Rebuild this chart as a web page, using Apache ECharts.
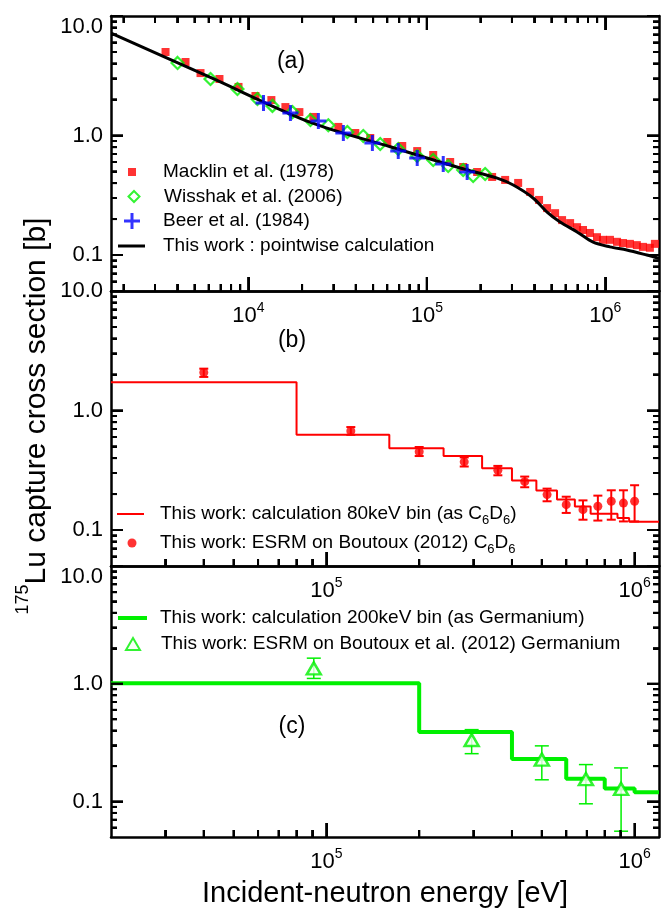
<!DOCTYPE html>
<html><head><meta charset="utf-8">
<script src="https://cdn.jsdelivr.net/npm/echarts@6/dist/echarts.min.js"></script>
<style>html,body{margin:0;padding:0;background:#fff}#c{width:671px;height:909px;background:#fff}</style>
</head><body><div id="c"></div>
<script>
// ---------- data ----------
// Panel (a)
const macklinEnergy = [3436,4446,5395,6890,8810,10960,13460,16130,19320,23130,31930,39740,48220,60070,72840,88350,108600,135200,159900,191400,232300,274800,325000,379300,425600,472000,523400,572800,635300,695000,750000,820000,899000,971000,1062000,1164000,1256000,1374000,1503000,1625000,1778000,1897000];
const macklinXS = [5.0,4.12,3.33,2.97,2.55,2.14,1.98,1.73,1.57,1.43,1.18,1.05,0.953,0.883,0.817,0.741,0.687,0.600,0.545,0.495,0.450,0.425,0.401,0.337,0.289,0.247,0.224,0.196,0.185,0.171,0.162,0.153,0.141,0.134,0.134,0.129,0.126,0.124,0.121,0.117,0.115,0.124];
const wisshakEnergy = [4012,6137,8690,11250,13650,17660,22280,28060,35890,44060,54830,69180,88350,108600,131800,159900,181900,212300];
const wisshakXS = [4.05,2.97,2.45,2.02,1.77,1.57,1.35,1.22,1.07,0.99,0.849,0.771,0.673,0.624,0.556,0.514,0.458,0.477];
const beerEnergy = [12160,17210,24680,34070,49550,69180,88350,123600,168300];
const beerXS = [1.87,1.54,1.32,1.05,0.865,0.741,0.649,0.578,0.495];
const calcEnergy = [1714,6220,22500,62400,153800,248000,305000,394000,472000,558000,695000,855000,1060000,1320000,1710000,2000000];
const calcXS = [7.17,3.03,1.28,0.805,0.535,0.44,0.385,0.30,0.229,0.189,0.156,0.128,0.117,0.110,0.100,0.094];
// Panel (b): 80 keV bins (left edges) and ESRM points
const c6d6BinEdges = [20000,80000,160000,240000,320000,400000,480000,560000,640000,720000,800000,880000,960000,1200000];
const c6d6BinXS = [1.72,0.626,0.483,0.416,0.329,0.260,0.214,0.180,0.157,0.137,0.137,0.126,0.117,0.117];
const c6d6Energy = [40000,120000,200000,280000,360000,440000,520000,600000,680000,760000,840000,920000,1000000];
const c6d6XS = [2.08,0.675,0.452,0.372,0.316,0.254,0.198,0.163,0.148,0.158,0.174,0.168,0.174];
const c6d6Low = [1.91,0.626,0.416,0.340,0.287,0.228,0.174,0.139,0.122,0.120,0.122,0.118,0.118];
const c6d6High = [2.24,0.727,0.495,0.405,0.344,0.280,0.222,0.190,0.177,0.194,0.215,0.215,0.237];
// Panel (c): 200 keV bins and ESRM points
const geBinEdges = [20000,200000,400000,600000,800000,1000000,1200000];
const geBinXS = [1.01,0.39,0.23,0.156,0.129,0.12,0.12];
const geEnergy = [91000,296000,500000,695000,904000];
const geXS = [1.35,0.333,0.227,0.155,0.128];
const geLow = [1.11,0.255,0.153,0.0957,0.056];
const geHigh = [1.65,0.408,0.297,0.206,0.193];
// Axes / ticks
const yMajorTicks = [0.1,1,10];
const yTickLabels = ['0.1','1.0','10.0'];
const yMinorTicks = [0.06,0.07,0.08,0.09,0.2,0.3,0.4,0.5,0.6,0.7,0.8,0.9,2,3,4,5,6,7,8,9];
const xMajorTicksA = [1e4,1e5,1e6];
const xTickExpA = ['4','5','6'];
const xMinorTicksA = [2000,3000,4000,5000,6000,7000,8000,9000,2e4,3e4,4e4,5e4,6e4,7e4,8e4,9e4,2e5,3e5,4e5,5e5,6e5,7e5,8e5,9e5];
const xMajorTicksBC = [1e5,1e6];
const xTickExpBC = ['5','6'];
const xMinorTicksBC = [3e4,4e4,5e4,6e4,7e4,8e4,9e4,2e5,3e5,4e5,5e5,6e5,7e5,8e5,9e5];
const xRangeA = [1700, 2e6];
const xRangeBC = [2e4, 1.2e6];
const yRange = [0.05, 10];

const names = {
  mack: 'Macklin et al. (1978)',
  wiss: 'Wisshak et al. (2006)',
  beer: 'Beer et al. (1984)',
  calc: 'This work : pointwise calculation',
  c6calc: 'This work: calculation 80keV bin (as C6D6)',
  c6pts: 'This work: ESRM on Boutoux (2012) C6D6',
  gecalc: 'This work: calculation 200keV bin (as Germanium)',
  gepts: 'This work: ESRM on Boutoux et al. (2012) Germanium'
};

// ---------- styling ----------
const FONT = '"Liberation Sans", Arial, Helvetica, sans-serif';
const RED = '#ff0000', GREEN = '#00f000', BLUE = '#0000ff', BLACK = '#000000';
const grids = [
  {left: 111, top: 16, width: 548, height: 275},
  {left: 111, top: 291, width: 548, height: 275},
  {left: 111, top: 566, width: 548, height: 275}
];

function nearestIdx(arr, v) {
  let best = 0, bd = Infinity;
  arr.forEach((a, i) => { const d = Math.abs(Math.log10(a) - Math.log10(v)); if (d < bd) { bd = d; best = i; } });
  return best;
}
const supRich = {
  b: {fontSize: 22, fontFamily: FONT, color: BLACK},
  s: {fontSize: 14, fontFamily: FONT, color: BLACK, padding: [0, 0, 15, 0]}
};

const xRanges = [xRangeA, xRangeBC, xRangeBC];
const xMajors = [xMajorTicksA, xMajorTicksBC, xMajorTicksBC];
const xMinors = [xMinorTicksA, xMinorTicksBC, xMinorTicksBC];
const xExps = [xTickExpA, xTickExpBC, xTickExpBC];

const xAxes = [], yAxes = [];
grids.forEach((g, gi) => {
  const range = xRanges[gi];
  const majors = xMajors[gi];
  const minors = xMinors[gi];
  const exps = xExps[gi];
  const mk = (pos, tickVals, len, showLine, showTick, label) => ({
    type: 'log', gridIndex: gi, min: range[0], max: range[1], position: pos,
    splitLine: {show: false},
    axisLine: {show: showLine, lineStyle: {color: BLACK, width: 2.5}},
    axisTick: {show: showTick, inside: true, length: len, customValues: tickVals, lineStyle: {color: BLACK, width: 2}},
    axisLabel: label || {show: false}
  });
  xAxes.push(mk('bottom', majors, 14, true, true, {show: true, customValues: majors, margin: 10,
      formatter: v => '{b|10}{s|' + exps[nearestIdx(majors, v)] + '}', rich: supRich}));
  xAxes.push(mk('bottom', minors, 7, false, true));
  xAxes.push(mk('top', majors, 14, true, gi === 0));
  xAxes.push(mk('top', minors, 7, false, gi === 0));

  const mky = (pos, tickVals, len, showLine, label) => ({
    type: 'log', gridIndex: gi, min: yRange[0], max: yRange[1], position: pos,
    splitLine: {show: false},
    axisLine: {show: showLine, lineStyle: {color: BLACK, width: 2.5}},
    axisTick: {show: true, inside: true, length: len, customValues: tickVals, lineStyle: {color: BLACK, width: 2}},
    axisLabel: label || {show: false}
  });
  yAxes.push(mky('left', yMajorTicks, 12, true, {show: true, customValues: yMajorTicks, margin: 8,
      fontSize: 22, fontFamily: FONT, color: BLACK,
      verticalAlignMaxLabel: gi === 1 ? 'middle' : 'top',
      formatter: v => yTickLabels[nearestIdx(yMajorTicks, v)]}));
  yAxes.push(mky('left', yMinorTicks, 6, false));
  yAxes.push(mky('right', yMajorTicks, 12, true));
  yAxes.push(mky('right', yMinorTicks, 6, false));
});
// x-axis title on bottom panel
xAxes[8].name = 'Incident-neutron energy [eV]';
xAxes[8].nameLocation = 'middle';
xAxes[8].nameGap = 42;
xAxes[8].nameTextStyle = {fontSize: 29, fontFamily: FONT, color: BLACK};

const zip = (a, b) => a.map((v, i) => [v, b[i]]);
const zip3 = (a, b, c) => a.map((v, i) => [v, b[i], c[i]]);

function errBar(capHalf, color, lw) {
  return function (params, api) {
    const x = api.value(0), lo = api.value(1), hi = api.value(2);
    const p1 = api.coord([x, lo]), p2 = api.coord([x, hi]);
    const st = {stroke: color, lineWidth: lw};
    return {type: 'group', children: [
      {type: 'line', shape: {x1: p1[0], y1: p1[1], x2: p2[0], y2: p2[1]}, style: st},
      {type: 'line', shape: {x1: p1[0] - capHalf, y1: p1[1], x2: p1[0] + capHalf, y2: p1[1]}, style: st},
      {type: 'line', shape: {x1: p2[0] - capHalf, y1: p2[1], x2: p2[0] + capHalf, y2: p2[1]}, style: st}
    ]};
  };
}

// tick marks as custom series (values from tick arrays, placed by the log axes)
const tickStyle = {stroke: BLACK, lineWidth: 2};
function xTickSeries(gi) {
  const data = xMajors[gi].map(v => [v, yRange[0], 14]).concat(xMinors[gi].map(v => [v, yRange[0], 7]));
  return {name: 'xticks' + gi, type: 'custom', xAxisIndex: 4 * gi, yAxisIndex: 4 * gi, z: 6,
    data: data, encode: {x: 0, y: 1},
    renderItem: function (params, api) {
      const v = api.value(0), L = api.value(2);
      const pb = api.coord([v, yRange[0]]), pt = api.coord([v, yRange[1]]);
      const ch = [{type: 'line', shape: {x1: pb[0], y1: pb[1], x2: pb[0], y2: pb[1] - L}, style: tickStyle}];
      if (gi === 0) ch.push({type: 'line', shape: {x1: pt[0], y1: pt[1], x2: pt[0], y2: pt[1] + L}, style: tickStyle});
      return {type: 'group', children: ch};
    }};
}
function yTickSeries(gi) {
  const xr = xRanges[gi];
  const data = yMajorTicks.map(v => [xr[0], v, 12]).concat(yMinorTicks.map(v => [xr[0], v, 6]));
  return {name: 'yticks' + gi, type: 'custom', xAxisIndex: 4 * gi, yAxisIndex: 4 * gi, z: 6,
    data: data, encode: {x: 0, y: 1},
    renderItem: function (params, api) {
      const v = api.value(1), L = api.value(2);
      const pl = api.coord([xr[0], v]), pr = api.coord([xr[1], v]);
      return {type: 'group', children: [
        {type: 'line', shape: {x1: pl[0], y1: pl[1], x2: pl[0] + L, y2: pl[1]}, style: tickStyle},
        {type: 'line', shape: {x1: pr[0], y1: pr[1], x2: pr[0] - L, y2: pr[1]}, style: tickStyle}
      ]};
    }};
}

const plusPath = 'path://M0,6.5H6.5V0H9.5V6.5H16V9.5H9.5V16H6.5V9.5H0Z';

const series = [
  {name: names.mack, type: 'scatter', xAxisIndex: 0, yAxisIndex: 0, data: zip(macklinEnergy, macklinXS),
   symbol: 'rect', symbolSize: 8, itemStyle: {color: RED}, z: 2},
  {name: names.wiss, type: 'scatter', xAxisIndex: 0, yAxisIndex: 0, data: zip(wisshakEnergy, wisshakXS),
   symbol: 'diamond', symbolSize: 12, itemStyle: {color: 'rgba(255,255,255,0)', borderColor: GREEN, borderWidth: 2.2}, z: 3},
  {name: names.calc, type: 'line', xAxisIndex: 0, yAxisIndex: 0, data: zip(calcEnergy, calcXS),
   symbol: 'none', smooth: 0.3, lineStyle: {color: BLACK, width: 3}, itemStyle: {color: BLACK}, z: 4},
  {name: names.beer, type: 'scatter', xAxisIndex: 0, yAxisIndex: 0, data: zip(beerEnergy, beerXS),
   symbol: plusPath, symbolSize: 16, itemStyle: {color: BLUE}, z: 5},

  {name: names.c6calc, type: 'line', xAxisIndex: 4, yAxisIndex: 4, data: zip(c6d6BinEdges, c6d6BinXS),
   step: 'end', symbol: 'none', lineStyle: {color: RED, width: 2}, itemStyle: {color: RED}, z: 2},
  {name: 'c6err', type: 'custom', xAxisIndex: 4, yAxisIndex: 4, data: zip3(c6d6Energy, c6d6Low, c6d6High),
   encode: {x: 0, y: [1, 2]}, renderItem: errBar(4.5, RED, 2), z: 3},
  {name: names.c6pts, type: 'scatter', xAxisIndex: 4, yAxisIndex: 4, data: zip(c6d6Energy, c6d6XS),
   symbol: 'circle', symbolSize: 9, itemStyle: {color: RED}, z: 4},

  {name: names.gecalc, type: 'line', xAxisIndex: 8, yAxisIndex: 8, data: zip(geBinEdges, geBinXS),
   step: 'end', symbol: 'none', lineStyle: {color: GREEN, width: 4}, itemStyle: {color: GREEN}, z: 2},
  {name: 'geerr', type: 'custom', xAxisIndex: 8, yAxisIndex: 8, data: zip3(geEnergy, geLow, geHigh),
   encode: {x: 0, y: [1, 2]}, renderItem: errBar(7, GREEN, 1.5), z: 3},
  {name: names.gepts, type: 'scatter', xAxisIndex: 8, yAxisIndex: 8, data: zip(geEnergy, geXS),
   symbol: 'triangle', symbolSize: [14, 12], itemStyle: {color: '#f4fff4', borderColor: GREEN, borderWidth: 2.5}, z: 4},

  xTickSeries(0), xTickSeries(1), xTickSeries(2),
  yTickSeries(0), yTickSeries(1), yTickSeries(2)
];

function mkLegend(name, icon, left, top, w, h, padLeft, fmt) {
  return {data: [{name: name, icon: icon}], left: left, top: top, orient: 'horizontal', padding: 0,
    itemWidth: w, itemHeight: h, selectedMode: false, formatter: fmt || (n => n),
    textStyle: {fontSize: 19, fontFamily: FONT, color: BLACK, lineHeight: 20, padding: [0, 0, 0, padLeft],
      rich: {s: {fontSize: 13, fontFamily: FONT, color: BLACK, padding: [12, 0, 0, 0]}}}};
}
const subFmt = n => n.replace(/C6D6/, 'C{s|6}D{s|6}');
const legends = [
  mkLegend(names.mack, 'rect', 128, 162, 8, 8, 22),
  mkLegend(names.wiss, 'diamond', 127.5, 186.5, 11, 11, 19.5),
  mkLegend(names.beer, plusPath, 124, 211, 16, 16, 18),
  mkLegend(names.calc, 'rect', 118, 236, 27, 3, 13),
  mkLegend(names.c6calc, 'rect', 117, 504, 27, 2, 11, subFmt),
  mkLegend(names.c6pts, 'circle', 127.5, 533, 9, 9, 18.5, subFmt),
  mkLegend(names.gecalc, 'rect', 118, 608, 29, 4, 8),
  mkLegend(names.gepts, 'triangle', 125, 634, 14, 12, 16)
];

const panelLabelStyle = {fontSize: 23, fontFamily: FONT, fill: BLACK, align: 'center', verticalAlign: 'middle'};
const graphic = [
  {type: 'text', x: 291, y: 62, style: Object.assign({text: '(a)'}, panelLabelStyle)},
  {type: 'text', x: 292, y: 341, style: Object.assign({text: '(b)'}, panelLabelStyle)},
  {type: 'text', x: 292, y: 727, style: Object.assign({text: '(c)'}, panelLabelStyle)},
  {type: 'text', x: 37, y: 416, rotation: Math.PI / 2,
   style: {text: '{s|175}{m|Lu capture cross section [b]}', align: 'center', verticalAlign: 'middle',
     rich: {m: {fontSize: 30, fontFamily: FONT, fill: BLACK, color: BLACK},
            s: {fontSize: 18, fontFamily: FONT, fill: BLACK, color: BLACK, padding: [0, 0, 28, 0]}}}}
];

const chart = echarts.init(document.getElementById('c'), null, {renderer: 'canvas'});
chart.setOption({
  animation: false,
  grid: grids,
  xAxis: xAxes,
  yAxis: yAxes,
  legend: legends,
  graphic: graphic,
  series: series
});

// extra tick layer: positions obtained from the chart's own log axes
try {
  const tickEls = [];
  const seriesOfGrid = [0, 4, 7];
  const tl = (p, q) => tickEls.push({type: 'line', zlevel: 1, z: 100,
    shape: {x1: p[0], y1: p[1], x2: q[0], y2: q[1]}, style: {stroke: BLACK, lineWidth: 2}});
  grids.forEach((g, gi) => {
    const finder = {seriesIndex: seriesOfGrid[gi]};
    const xr = xRanges[gi];
    const px = (x, y) => chart.convertToPixel(finder, [x, y]);
    const addX = (v, L) => {
      const b = px(v, yRange[0]), t = px(v, yRange[1]);
      if (!b || !t || isNaN(b[0])) return;
      tl(b, [b[0], b[1] - L]);
      if (gi === 0) tl(t, [t[0], t[1] + L]);
    };
    const addY = (v, L) => {
      const l = px(xr[0], v), r = px(xr[1], v);
      if (!l || !r || isNaN(l[1])) return;
      tl(l, [l[0] + L, l[1]]);
      tl(r, [r[0] - L, r[1]]);
    };
    xMajors[gi].forEach(v => addX(v, 14));
    xMinors[gi].forEach(v => addX(v, 7));
    yMajorTicks.forEach(v => addY(v, 12));
    yMinorTicks.forEach(v => addY(v, 6));
  });
  if (tickEls.length) chart.setOption({graphic: graphic.concat(tickEls)});
} catch (e) {}
</script></body></html>
